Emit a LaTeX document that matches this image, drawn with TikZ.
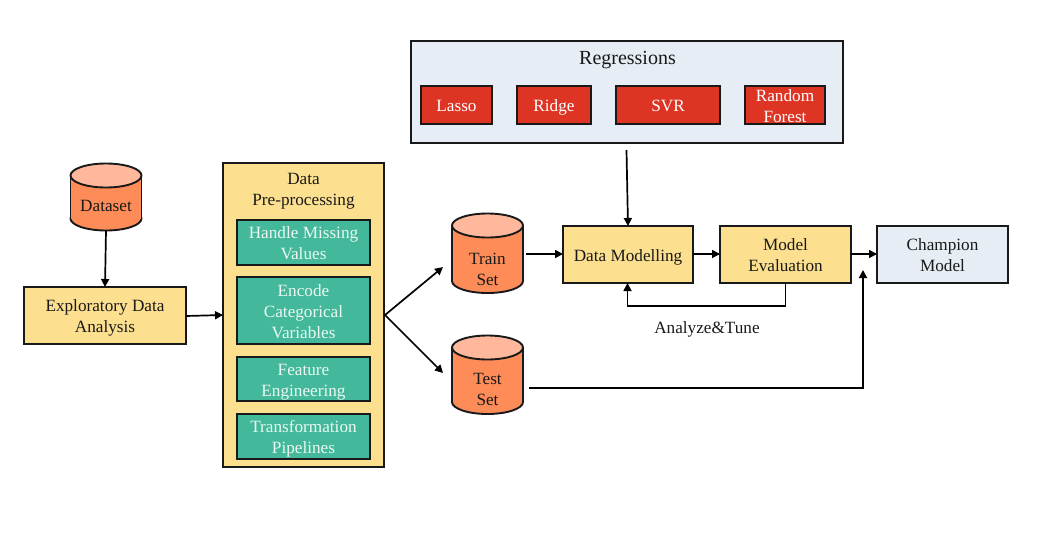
\documentclass[tikz,border=0pt]{standalone}
\usepackage{fontspec}
\setmainfont{Liberation Serif}
\usetikzlibrary{arrows.meta}
\definecolor{yel}{HTML}{FCE08F}
\definecolor{grn}{HTML}{44B89A}
\definecolor{rd}{HTML}{DE3423}
\definecolor{blu}{HTML}{E6EDF5}
\definecolor{org}{HTML}{FE8C58}
\definecolor{orgt}{HTML}{FFB89B}
\definecolor{lighttxt}{HTML}{EAF8F2}
\tikzset{
  x=1pt,y=-1pt,
  every node/.style={font=\fontsize{17.2}{21}\selectfont,inner sep=0pt,outer sep=0pt,text=black!90},
  yelbox/.style={draw=black!90,line width=1.9pt,fill=yel},
  blubox/.style={draw=black!90,line width=1.9pt,fill=blu},
  grnbox/.style={draw=black!90,line width=2.2pt,fill=grn,text=lighttxt},
  redbox/.style={draw=black!90,line width=2.2pt,fill=rd,text=white},
  cylline/.style={draw=black!90,line width=1.9pt},
  conn/.style={draw=black,line width=1.7pt,-{Triangle[length=8pt,width=8pt]}}
}
\newcommand{\tx}[1]{\raisebox{-7pt}[0pt][0pt]{\begin{tabular}{@{}c@{}}#1\end{tabular}}}
\newcommand{\boxat}[6]{\node[#2,minimum width=#5-#3,minimum height=#6-#4] (#1) at ({(#3+#5)/2},{(#4+#6)/2})}
% name, cx, top, bottom, text centre y, text
\newcommand{\cylnode}[6]{%
  \fill[org,cylline] (#2,#4-12) ellipse[x radius=35.5,y radius=12];
  \fill[org] (#2-35.5,#3+12) rectangle (#2+35.5,#4-12);
  \draw[cylline] (#2-35.5,#3+12) -- (#2-35.5,#4-12) (#2+35.5,#3+12) -- (#2+35.5,#4-12);
  \fill[orgt,cylline] (#2,#3+12) ellipse[x radius=35.5,y radius=12];
  \node[minimum width=71,minimum height={2*(#4-#5)}] (#1) at (#2,#5) {\tx{#6}};
}
\begin{document}
\begin{tikzpicture}
\useasboundingbox (0,0) rectangle (1060,533);
\cylnode{dataset}{106}{163.5}{230.5}{205}{Dataset}
\boxat{eda}{yelbox}{24}{287}{186}{344} {\tx{Exploratory Data\\Analysis}};
\boxat{pre}{yelbox}{223}{163}{384}{467} {};
\node (pretitle) at (303.5,188.5) {\tx{Data\\Pre-processing}};
\boxat{hmv}{grnbox}{237}{220}{370}{265} {\tx{Handle Missing\\Values}};
\boxat{enc}{grnbox}{237}{277}{370}{344} {\tx{Encode\\Categorical\\Variables}};
\boxat{fe}{grnbox}{237}{357}{370}{401} {\tx{Feature\\Engineering}};
\boxat{tp}{grnbox}{237}{414}{370}{459} {\tx{Transformation\\Pipelines}};
\boxat{reg}{blubox}{411}{41}{843}{143} {};
\node[font=\fontsize{20}{23}\selectfont] (regt) at (627.5,58) {\tx{Regressions}};
\boxat{lasso}{redbox}{421}{86}{492}{124} {\tx{Lasso}};
\boxat{ridge}{redbox}{517}{86}{591}{124} {\tx{Ridge}};
\boxat{svr}{redbox}{616}{86}{720}{124} {\tx{SVR}};
\boxat{rf}{redbox}{745}{86}{825}{124} {\tx{Random\\Forest}};
\cylnode{train}{487.5}{213.5}{293}{268.5}{Train\\Set}
\cylnode{test}{487.5}{335.5}{414}{388.5}{Test\\Set}
\boxat{dm}{yelbox}{563}{226}{693}{283} {\tx{Data Modelling}};
\boxat{eval}{yelbox}{720}{226}{851}{283} {\tx{Model\\Evaluation}};
\boxat{champ}{blubox}{877}{226}{1008}{283} {\tx{Champion\\Model}};
\node (tune) at (707,327) {\tx{Analyze\&Tune}};
\coordinate (regout) at (626.5,150);
\coordinate (fork) at (385,315);
\coordinate (trainin) at (443,267);
\coordinate (testin) at (443,373);
\coordinate (trainout) at (526,254);
\coordinate (testout) at (529,388);
\coordinate (champin) at (863,270);
\coordinate (evalb) at (785.5,306);
\coordinate (dmb) at (627.5,306);
\draw[conn] (dataset.south) -- (105,287);
\draw[conn] (eda.east |- 0,316) -- (pre.west |- 0,315);
\draw[conn] (fork) -- (trainin);
\draw[conn] (fork) -- (testin);
\draw[conn] (regout) -- (dm.north -| 628,0);
\draw[conn] (trainout) -- (dm.west |- trainout);
\draw[conn] (dm.east |- trainout) -- (eval.west |- trainout);
\draw[conn] (eval.east |- trainout) -- (champ.west |- trainout);
\draw[conn] (eval.south -| evalb) -- (evalb) -- (dmb) -- (dm.south -| dmb);
\draw[conn] (testout) -- (champin |- testout) -- (champin);
\end{tikzpicture}
\end{document}
